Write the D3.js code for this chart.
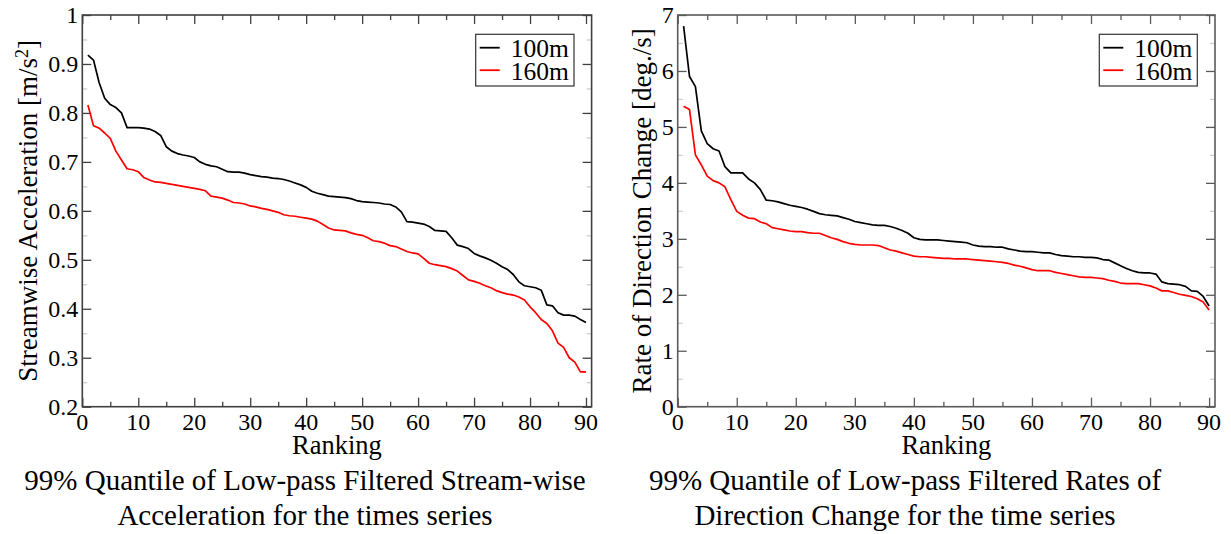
<!DOCTYPE html>
<html>
<head>
<meta charset="utf-8">
<script src="https://cdn.jsdelivr.net/npm/d3@7"></script>
<style>
  html, body { margin: 0; padding: 0; background: #fff; }
  svg { display: block; }
</style>
</head>
<body>
<svg id="chart" width="1231" height="534"></svg>
<script>
// ---------- DATA ----------
const ranking = d3.range(1, 91);

const acc100 = [0.918,0.908,0.862,0.830,0.817,0.811,0.800,0.770,0.770,0.770,
  0.769,0.767,0.762,0.754,0.731,0.722,0.717,0.714,0.712,0.709,
  0.700,0.695,0.692,0.690,0.685,0.680,0.679,0.679,0.677,0.674,
  0.672,0.670,0.669,0.667,0.666,0.664,0.661,0.657,0.653,0.648,
  0.640,0.636,0.633,0.630,0.629,0.628,0.627,0.625,0.621,0.619,
  0.618,0.617,0.616,0.614,0.613,0.608,0.598,0.578,0.577,0.575,
  0.573,0.568,0.560,0.559,0.558,0.545,0.530,0.527,0.523,0.513,
  0.508,0.504,0.499,0.493,0.486,0.480,0.470,0.455,0.447,0.445,
  0.443,0.438,0.408,0.406,0.392,0.387,0.387,0.385,0.378,0.372];

const acc160 = [0.816,0.774,0.769,0.759,0.748,0.722,0.704,0.686,0.684,0.680,
  0.668,0.663,0.659,0.658,0.656,0.654,0.652,0.650,0.648,0.646,
  0.644,0.641,0.630,0.628,0.626,0.622,0.617,0.616,0.614,0.610,
  0.608,0.605,0.603,0.600,0.597,0.592,0.590,0.589,0.587,0.585,
  0.583,0.579,0.572,0.565,0.561,0.560,0.559,0.555,0.552,0.550,
  0.545,0.539,0.537,0.534,0.529,0.527,0.522,0.517,0.514,0.512,
  0.503,0.493,0.490,0.488,0.486,0.482,0.477,0.468,0.459,0.456,
  0.452,0.447,0.443,0.437,0.433,0.430,0.428,0.424,0.418,0.404,
  0.392,0.378,0.370,0.355,0.330,0.321,0.300,0.291,0.271,0.271];

const dir100 = [6.80,5.90,5.72,4.93,4.70,4.61,4.57,4.29,4.18,4.18,
  4.18,4.07,4.00,3.88,3.69,3.68,3.66,3.63,3.60,3.58,
  3.56,3.53,3.49,3.45,3.43,3.42,3.41,3.38,3.35,3.31,
  3.29,3.27,3.25,3.24,3.24,3.22,3.19,3.15,3.10,3.02,
  2.99,2.98,2.98,2.98,2.97,2.96,2.95,2.94,2.93,2.89,
  2.87,2.86,2.86,2.85,2.85,2.82,2.80,2.78,2.77,2.77,
  2.76,2.75,2.75,2.72,2.70,2.69,2.68,2.68,2.67,2.67,
  2.66,2.63,2.62,2.57,2.52,2.47,2.43,2.40,2.39,2.39,
  2.37,2.23,2.20,2.19,2.18,2.15,2.07,2.06,1.97,1.80];

const dir160 = [5.37,5.31,4.50,4.32,4.12,4.04,4.00,3.93,3.70,3.49,
  3.42,3.37,3.36,3.30,3.27,3.20,3.18,3.16,3.14,3.13,
  3.13,3.11,3.10,3.10,3.06,3.02,2.99,2.95,2.92,2.90,
  2.89,2.89,2.89,2.88,2.84,2.80,2.78,2.75,2.72,2.69,
  2.68,2.68,2.67,2.66,2.65,2.65,2.64,2.64,2.64,2.63,
  2.62,2.61,2.60,2.59,2.58,2.56,2.53,2.51,2.48,2.45,
  2.43,2.43,2.43,2.40,2.38,2.36,2.34,2.32,2.31,2.31,
  2.30,2.29,2.26,2.24,2.21,2.20,2.20,2.20,2.18,2.16,
  2.12,2.07,2.07,2.04,2.01,1.99,1.97,1.93,1.87,1.73];

const seriesNames = ["100m", "160m"];
const seriesColors = ["#000000", "#ff0000"];

const xTicks = [0,10,20,30,40,50,60,70,80,90];
const xTickLabels = ["0","10","20","30","40","50","60","70","80","90"];
const xMinorTicks = [5,15,25,35,45,55,65,75,85];

const accTicks = [0.2,0.3,0.4,0.5,0.6,0.7,0.8,0.9,1.0];
const accTickLabels = ["0.2","0.3","0.4","0.5","0.6","0.7","0.8","0.9","1"];
const accMinorTicks = [0.25,0.35,0.45,0.55,0.65,0.75,0.85,0.95];

const dirTicks = [0,1,2,3,4,5,6,7];
const dirTickLabels = ["0","1","2","3","4","5","6","7"];
const dirMinorTicks = [0.5,1.5,2.5,3.5,4.5,5.5,6.5];

const xLabel = "Ranking";
const accYLabel = ["Streamwise Acceleration [m/s", "2", "]"];
const dirYLabel = "Rate of Direction Change [deg./s]";
const accTitle = ["99% Quantile of Low-pass Filtered Stream-wise", "Acceleration for the times series"];
const dirTitle = ["99% Quantile of Low-pass Filtered Rates of", "Direction Change for the time series"];

// ---------- DRAW ----------
const FONT = "'Liberation Serif', 'DejaVu Serif', serif";
const svg = d3.select("#chart").attr("font-family", FONT);
svg.append("rect").attr("width", 1231).attr("height", 534).attr("fill", "#fff");

function txt(sel) {
  return sel.attr("font-family", FONT).attr("fill", "#000");
}

function panel(cfg) {
  const g = svg.append("g");
  const x = d3.scaleLinear().domain([0, 91]).range([cfg.left, cfg.right]);
  const y = d3.scaleLinear().domain(cfg.yDomain).range([cfg.bottom, cfg.top]);
  const frame = cfg.frameColor;

  const major = 9, minor = 5;
  const ax = (axisFn, scale, vals, size, pos, color) => {
    const a = g.append("g").attr("transform", pos)
      .call(axisFn(scale).tickValues(vals).tickSize(size).tickFormat(""));
    a.select(".domain").remove();
    a.selectAll(".tick line").attr("stroke", color).attr("stroke-width", 1.3);
  };
  ax(d3.axisBottom, x, xTicks, -major, `translate(0,${cfg.bottom})`, frame);
  ax(d3.axisBottom, x, xMinorTicks, -minor, `translate(0,${cfg.bottom})`, frame);
  ax(d3.axisTop, x, xTicks, -major, `translate(0,${cfg.top})`, frame);
  ax(d3.axisTop, x, xMinorTicks, -minor, `translate(0,${cfg.top})`, frame);
  ax(d3.axisLeft, y, cfg.yTicks, -major, `translate(${cfg.left},0)`, frame);
  ax(d3.axisLeft, y, cfg.yMinor, -minor, `translate(${cfg.left},0)`, "#cfcfcf");
  ax(d3.axisRight, y, cfg.yTicks, -major, `translate(${cfg.right},0)`, frame);
  ax(d3.axisRight, y, cfg.yMinor, -minor, `translate(${cfg.right},0)`, "#cfcfcf");

  g.append("rect")
    .attr("x", cfg.left).attr("y", cfg.top)
    .attr("width", cfg.right - cfg.left).attr("height", cfg.bottom - cfg.top)
    .attr("fill", "none").attr("stroke", frame).attr("stroke-width", 1.6);

  txt(g.selectAll(".xl").data(xTicks).enter().append("text"))
    .attr("x", d => x(d)).attr("y", cfg.bottom + 23.5)
    .attr("text-anchor", "middle").attr("font-size", 24)
    .text((d, i) => xTickLabels[i]);
  txt(g.selectAll(".yl").data(cfg.yTicks).enter().append("text"))
    .attr("x", cfg.left - 4).attr("y", d => y(d)).attr("dy", "0.35em")
    .attr("text-anchor", "end").attr("font-size", 24)
    .text((d, i) => cfg.yTickLabels[i]);

  txt(g.append("text")).attr("x", (cfg.left + cfg.right) / 2).attr("y", cfg.bottom + 47)
    .attr("text-anchor", "middle").attr("font-size", 26.5).text(xLabel);
  const yl = txt(g.append("text"))
    .attr("transform", `translate(${cfg.yLabelX},${(cfg.top + cfg.bottom) / 2}) rotate(-90)`)
    .attr("text-anchor", "middle").attr("font-size", 27);
  if (Array.isArray(cfg.yLabel)) {
    yl.append("tspan").text(cfg.yLabel[0]);
    yl.append("tspan").attr("dy", "-0.45em").attr("font-size", 18).text(cfg.yLabel[1]);
    yl.append("tspan").attr("dy", "0.3em").text(cfg.yLabel[2]);
  } else {
    yl.text(cfg.yLabel);
  }

  const line = d3.line().x((d, i) => x(ranking[i])).y(d => y(d));
  g.append("g").selectAll("path").data(cfg.series).enter().append("path")
    .attr("d", d => line(d)).attr("fill", "none")
    .attr("stroke", (d, i) => seriesColors[i]).attr("stroke-width", 1.7)
    .attr("stroke-linejoin", "round");

  const L = cfg.legend;
  g.append("rect").attr("x", L.x).attr("y", 34.3).attr("width", L.w).attr("height", 51.7)
    .attr("fill", "#fff").attr("stroke", "#333").attr("stroke-width", 1.2);
  seriesNames.forEach((name, i) => {
    const cy = 47.7 + i * 22.5;
    g.append("line").attr("x1", L.x + 4).attr("x2", L.x + 24)
      .attr("y1", cy).attr("y2", cy)
      .attr("stroke", seriesColors[i]).attr("stroke-width", 1.8);
    txt(g.append("text")).attr("x", L.x + 35).attr("y", cy + 9.5)
      .attr("font-size", 25.5).text(name);
  });

  cfg.title.forEach((t, i) => {
    txt(svg.append("text")).attr("x", cfg.titleX).attr("y", 489.5 + i * 35.5)
      .attr("text-anchor", "middle").attr("font-size", 29).text(t);
  });
}

panel({
  left: 82.3, right: 591.6, top: 15, bottom: 406.7,
  yDomain: [0.2, 1.0], yTicks: accTicks, yTickLabels: accTickLabels, yMinor: accMinorTicks,
  yLabel: accYLabel, yLabelX: 36.5, series: [acc100, acc160],
  legend: { x: 475.7, w: 98.3 }, title: accTitle, titleX: 305, frameColor: "#404040"
});

panel({
  left: 677.7, right: 1215, top: 15, bottom: 406.7,
  yDomain: [0, 7], yTicks: dirTicks, yTickLabels: dirTickLabels, yMinor: dirMinorTicks,
  yLabel: dirYLabel, yLabelX: 650.5, series: [dir100, dir160],
  legend: { x: 1099.3, w: 98 }, title: dirTitle, titleX: 905, frameColor: "#5a5a5a"
});
</script>
</body>
</html>
